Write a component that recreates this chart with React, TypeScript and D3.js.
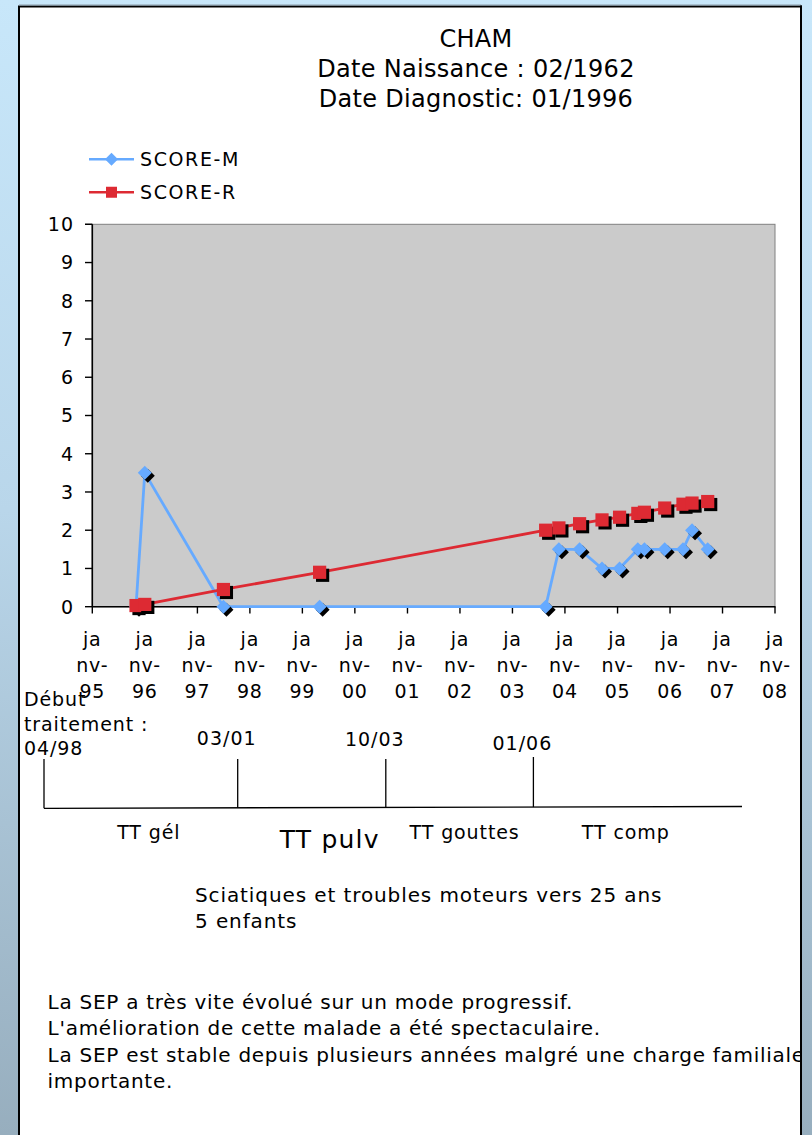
import React from "react";
import * as d3 from "d3";

// ---------- data ----------
const visitDates = [
  "1995-11-01", "1996-01-01", "1997-07-01", "1999-05-01", "2003-08-20",
  "2003-11-20", "2004-04-12", "2004-09-15", "2005-01-15", "2005-05-22",
  "2005-07-07", "2005-11-25", "2006-04-01", "2006-06-03", "2006-09-20",
];
const scoreM = [0, 3.5, 0, 0, 0, 1.5, 1.5, 1, 1, 1.5, 1.5, 1.5, 1.5, 2, 1.5];
const scoreR = [0.03, 0.06, 0.45, 0.9, 2.0, 2.06, 2.17, 2.27, 2.34, 2.44, 2.47, 2.58, 2.68, 2.71, 2.75];

const xTickLabels = [
  "janv-95", "janv-96", "janv-97", "janv-98", "janv-99", "janv-00", "janv-01",
  "janv-02", "janv-03", "janv-04", "janv-05", "janv-06", "janv-07", "janv-08",
];
const yTickValues = [0, 1, 2, 3, 4, 5, 6, 7, 8, 9, 10];

const titleLines = ["CHAM", "Date Naissance : 02/1962", "Date Diagnostic: 01/1996"];
const seriesNames = ["SCORE-M", "SCORE-R"];

const treatmentStarts = ["04/98", "03/01", "10/03", "01/06"];
const treatmentNames = ["TT gél", "TT pulv", "TT gouttes", "TT comp"];
const firstStartLines = ["Début", "traitement :", "04/98"];

const noteLines = ["Sciatiques et troubles moteurs vers 25 ans", "5 enfants"];
const commentLines = [
  "La SEP a très vite évolué sur un mode progressif.",
  "L'amélioration de cette malade a été spectaculaire.",
  "La SEP est stable depuis plusieurs années malgré une charge familiale",
  "importante.",
];

// ---------- layout ----------
const W = 812;
const H = 1135;
const FONT = "'DejaVu Sans', Verdana, sans-serif";
const BLUE = "#66aaff";
const RED = "#dd2a33";

const parse = d3.timeParse("%Y-%m-%d");

export default function App() {
  const x = d3
    .scaleTime()
    .domain([new Date(1995, 0, 1), new Date(2008, 0, 1)])
    .range([92.3, 775]);
  const y = d3.scaleLinear().domain([0, 10]).range([606.7, 224.3]);
  const xTicks = d3.timeYear.range(new Date(1995, 0, 1), new Date(2008, 0, 2));

  const dates = visitDates.map((d) => parse(d) as Date);
  const ptsM = dates.map((d, i) => [x(d), y(scoreM[i])] as [number, number]);
  const ptsR = dates.map((d, i) => [x(d), y(scoreR[i])] as [number, number]);
  const line = d3.line<[number, number]>();

  const diamond = (s: number) => `M0,${-s}L${s},0L0,${s}L${-s},0Z`;
  const square = (s: number) => `M${-s},${-s}H${s}V${s}H${-s}Z`;

  // timeline layout scale (index -> x)
  const tl = d3.scaleLinear().domain([0, 1, 2, 3, 4]).range([44, 237.7, 385.8, 533.4, 742]);
  const tlY = d3.scaleLinear().domain([44, 742]).range([808.3, 806.5]);
  const segDx = [8, 18, 5, -12];

  return (
    <svg
      width={W}
      height={H}
      viewBox={`0 0 ${W} ${H}`}
      style={{ position: "absolute", left: 0, top: 0, display: "block" }}
      fontFamily={FONT}
    >
      <defs>
        <linearGradient id="bg" x1="0" y1="0" x2="0" y2="1">
          <stop offset="0" stopColor="#c8e7fa" />
          <stop offset="0.45" stopColor="#b9d6ea" />
          <stop offset="1" stopColor="#97aebe" />
        </linearGradient>
        <clipPath id="panel">
          <rect x={20} y={7.5} width={780} height={H} />
        </clipPath>
      </defs>
      <rect x={0} y={0} width={W} height={H} fill="url(#bg)" />
      <rect x={19} y={6.5} width={782} height={H + 20} fill="#fff" stroke="#000" strokeWidth={2} />
      <line x1={19} x2={801} y1={5} y2={5} stroke="#8a9aa6" strokeWidth={1} />

      <g clipPath="url(#panel)">
        {/* title */}
        {titleLines.map((t, i) => (
          <text key={t} x={476} y={46.7 + i * 30} fontSize={24} letterSpacing={0.3} textAnchor="middle" fill="#000">
            {t}
          </text>
        ))}

        {/* legend */}
        {seriesNames.map((n, i) => {
          const cy = 159.3 + i * 33;
          return (
            <g key={n}>
              <line x1={89} x2={134} y1={cy} y2={cy} stroke={i === 0 ? BLUE : RED} strokeWidth={2.5} />
              <path
                d={i === 0 ? diamond(6.5) : square(5.5)}
                transform={`translate(111.5,${cy})`}
                fill={i === 0 ? BLUE : RED}
              />
              <text x={140} y={cy + 6.8} fontSize={19} letterSpacing={1.6} fill="#000">
                {n}
              </text>
            </g>
          );
        })}

        {/* plot area */}
        <rect x={92.3} y={224.3} width={775 - 92.3} height={606.7 - 224.3} fill="#cbcbcb" stroke="#808080" strokeWidth={1} />
        <line x1={92.3} x2={92.3} y1={224.3} y2={606.7} stroke="#000" strokeWidth={1.6} />
        <line x1={92.3} x2={775.5} y1={606.7} y2={606.7} stroke="#000" strokeWidth={1.6} />

        {/* y axis */}
        {yTickValues.map((v) => (
          <g key={v}>
            <line x1={85} x2={92.3} y1={y(v)} y2={y(v)} stroke="#000" strokeWidth={1.4} />
            <text x={74} y={y(v) + 6.8} fontSize={19} letterSpacing={1} textAnchor="end" fill="#000">
              {v}
            </text>
          </g>
        ))}

        {/* x axis */}
        {xTicks.map((d, i) => {
          const lab = xTickLabels[i];
          const parts = [lab.slice(0, 2), lab.slice(2, 5), lab.slice(5)];
          return (
            <g key={i}>
              <line x1={x(d)} x2={x(d)} y1={606.7} y2={613.5} stroke="#000" strokeWidth={1.4} />
              {parts.map((p, j) => (
                <text key={j} x={x(d)} y={646 + j * 25.8} fontSize={19} letterSpacing={0.8} textAnchor="middle" fill="#000">
                  {p}
                </text>
              ))}
            </g>
          );
        })}

        {/* series M */}
        <path d={line(ptsM) || ""} fill="none" stroke={BLUE} strokeWidth={2.8} strokeLinejoin="round" />
        {ptsM.map(([px, py], i) => (
          <g key={"m" + i} transform={`translate(${px},${py})`}>
            <path d={diamond(7)} transform="translate(3,3)" fill="#000" />
            <path d={diamond(7)} fill={BLUE} />
          </g>
        ))}

        {/* series R */}
        <path d={line(ptsR) || ""} fill="none" stroke={RED} strokeWidth={2.8} strokeLinejoin="round" />
        {ptsR.map(([px, py], i) => (
          <g key={"r" + i} transform={`translate(${px},${py})`}>
            <path d={square(6.6)} transform="translate(3,3)" fill="#000" />
            <path d={square(6.6)} fill={RED} />
          </g>
        ))}

        {/* treatment timeline */}
        {firstStartLines.map((t, i) => (
          <text key={t} x={24} y={706 + i * 24.5} fontSize={19} letterSpacing={0.9} fill="#000">
            {t}
          </text>
        ))}
        {treatmentStarts.map((t, i) => (
          <g key={t}>
            <line x1={tl(i)} x2={tl(i)} y1={i === 3 ? 757 : 759} y2={tlY(tl(i))} stroke="#000" strokeWidth={1.3} />
            {i > 0 && (
              <text x={tl(i) - 11} y={745 + (i === 3 ? 5 : i === 2 ? 1 : 0)} fontSize={19} letterSpacing={1} textAnchor="middle" fill="#000">
                {t}
              </text>
            )}
          </g>
        ))}
        <line x1={tl(0)} x2={tl(4)} y1={tlY(tl(0))} y2={tlY(tl(4))} stroke="#000" strokeWidth={1.3} />
        {treatmentNames.map((t, i) => (
          <text
            key={t}
            x={(tl(i) + tl(i + 1)) / 2 + segDx[i]}
            y={i === 1 ? 848 : 839}
            fontSize={i === 1 ? 25 : 19}
            letterSpacing={i === 1 ? 1.2 : 0.9}
            textAnchor="middle"
            fill="#000"
          >
            {t}
          </text>
        ))}

        {/* notes */}
        {noteLines.map((t, i) => (
          <text key={t} x={195} y={902 + i * 26} fontSize={20} letterSpacing={0.9} fill="#000">
            {t}
          </text>
        ))}
        {commentLines.map((t, i) => (
          <text key={t} x={47.6} y={1009 + i * 26.3} fontSize={20} letterSpacing={0.72} fill="#000">
            {t}
          </text>
        ))}
      </g>
      <line x1={801} x2={801} y1={5.5} y2={H} stroke="#000" strokeWidth={2} />
    </svg>
  );
}
